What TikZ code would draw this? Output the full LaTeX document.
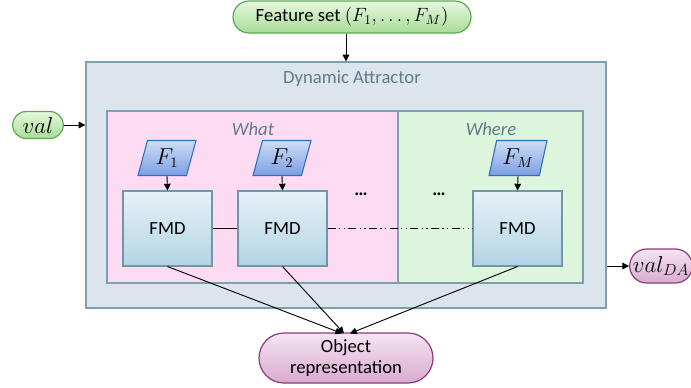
\documentclass[tikz,border=0pt]{standalone}
\usepackage{fontspec}
\setmainfont{Carlito}
\usetikzlibrary{shapes.geometric,shapes.misc,arrows.meta,calc}
\definecolor{outerfill}{HTML}{DDE5EC}
\definecolor{outerdraw}{HTML}{7E9FB0}
\definecolor{whatfill}{HTML}{FDDCF3}
\definecolor{wherefill}{HTML}{DDF5DD}
\definecolor{titlecol}{HTML}{5F7B8A}
\definecolor{fmdtop}{HTML}{E6F1F8}
\definecolor{fmdbot}{HTML}{B3D4E4}
\definecolor{fmddraw}{HTML}{6F97A8}
\definecolor{partop}{HTML}{CCDDF6}
\definecolor{parbot}{HTML}{7D9FE2}
\definecolor{pardraw}{HTML}{2F6FBF}
\definecolor{gtop}{HTML}{E6F7DF}
\definecolor{gbot}{HTML}{A8DC98}
\definecolor{gdraw}{HTML}{5DAA55}
\definecolor{ptop}{HTML}{F4E4F1}
\definecolor{pbot}{HTML}{D9ABCF}
\definecolor{pdraw}{HTML}{8B3A7E}
\tikzset{
  txt/.style={font=\fontsize{14}{16}\selectfont},
  greenpill/.style={rounded rectangle, draw=gdraw, line width=0.9pt, top color=gtop, bottom color=gbot, inner sep=0pt, txt},
  pinkpill/.style={rounded rectangle, draw=pdraw, line width=0.9pt, top color=ptop, bottom color=pbot, inner sep=0pt, txt},
  fmd/.style={rectangle, draw=fmddraw, line width=0.8pt, top color=fmdtop, bottom color=fmdbot, minimum width=66.75pt, minimum height=56.25pt, inner sep=0pt, txt},
  feat/.style={trapezium, trapezium left angle=74, trapezium right angle=106, trapezium stretches=true, draw=pardraw, line width=0.8pt, top color=partop, bottom color=parbot, minimum width=43.5pt, minimum height=26.25pt, inner sep=0pt, font=\fontsize{16}{18}\selectfont},
  arr/.style={-{Triangle[length=5pt,width=5pt]}, line width=0.7pt},
  conn/.style={line width=0.7pt},
}
\begin{document}
\begin{tikzpicture}[x=0.75pt,y=-0.75pt]
\useasboundingbox (0,0) rectangle (691,387);
% outer box
\node[draw=outerdraw, line width=0.9pt, fill=outerfill, minimum width=390pt, minimum height=184.5pt, inner sep=0pt] (da) at (346,185) {};
\node[txt, text=titlecol] (datitle) at (352,79) {Dynamic Attractor};
% what / where
\node[draw=outerdraw, line width=0.8pt, fill=whatfill, minimum width=218.25pt, minimum height=129pt, inner sep=0pt] (what) at (252.5,197) {};
\node[draw=outerdraw, line width=0.8pt, fill=wherefill, minimum width=138.75pt, minimum height=129pt, inner sep=0pt] (where) at (490.5,197) {};
\node[txt, text=titlecol, font=\fontsize{14}{16}\selectfont\itshape] (whatlbl) at (253,129) {What};
\node[txt, text=titlecol, font=\fontsize{14}{16}\selectfont\itshape] (wherelbl) at (491,129) {Where};
% top and side nodes
\node[greenpill, minimum width=178.5pt, minimum height=24pt] (fs) at (352,17) {Feature set $(F_1,\ldots,F_M)$};
\node[greenpill, minimum width=38pt, minimum height=20.25pt, font=\fontsize{17}{19}\selectfont] (val) at (38,125) {$val$};
\node[pinkpill, minimum width=47pt, minimum height=25.5pt, font=\fontsize{17}{19}\selectfont] (valda) at (661,266) {$val_{DA}$};
\node[pinkpill, minimum width=130.5pt, minimum height=37.5pt, align=center] (obj) at (346,358) {Object\\representation};
% features
\node[feat] (f1) at (167,158) {$F_1$};
\node[feat] (f2) at (282,158) {$F_2$};
\node[feat] (fm) at (518,158) {$F_M$};
% FMDs
\node[fmd] (d1) at (167.5,228.5) {FMD};
\node[fmd] (d2) at (282.5,228.5) {FMD};
\node[fmd] (dm) at (517.5,228.5) {FMD};
\node[txt, font=\fontsize{14}{16}\selectfont\bfseries] (dots1) at (361,194) {…};
\node[txt, font=\fontsize{14}{16}\selectfont\bfseries] (dots2) at (439,194) {…};
% connectors
\draw[arr] (fs.south -| 346,0) -- (da.north -| 346,0);
\draw[arr] (val.east) -- (da.west |- val.east);
\draw[arr] (da.east |- valda.west) -- (valda.west);
\draw[arr] (f1.south) -- (d1.north);
\draw[arr] (f2.south) -- (d2.north);
\draw[arr] (fm.south) -- (dm.north);
\draw[conn] (d1.east) -- (d2.west);
\draw[conn, dash pattern=on 6pt off 2.5pt on 1pt off 2.5pt on 1pt off 2.5pt] (d2.east) -- (dm.west);
\draw[arr] (d1.south) -- ($(obj.north)+(-4,1)$);
\draw[arr] (d2.south) -- ($(obj.north)+(-2,1)$);
\draw[arr] (dm.south) -- ($(obj.north)+(4,1)$);
\end{tikzpicture}
\end{document}
